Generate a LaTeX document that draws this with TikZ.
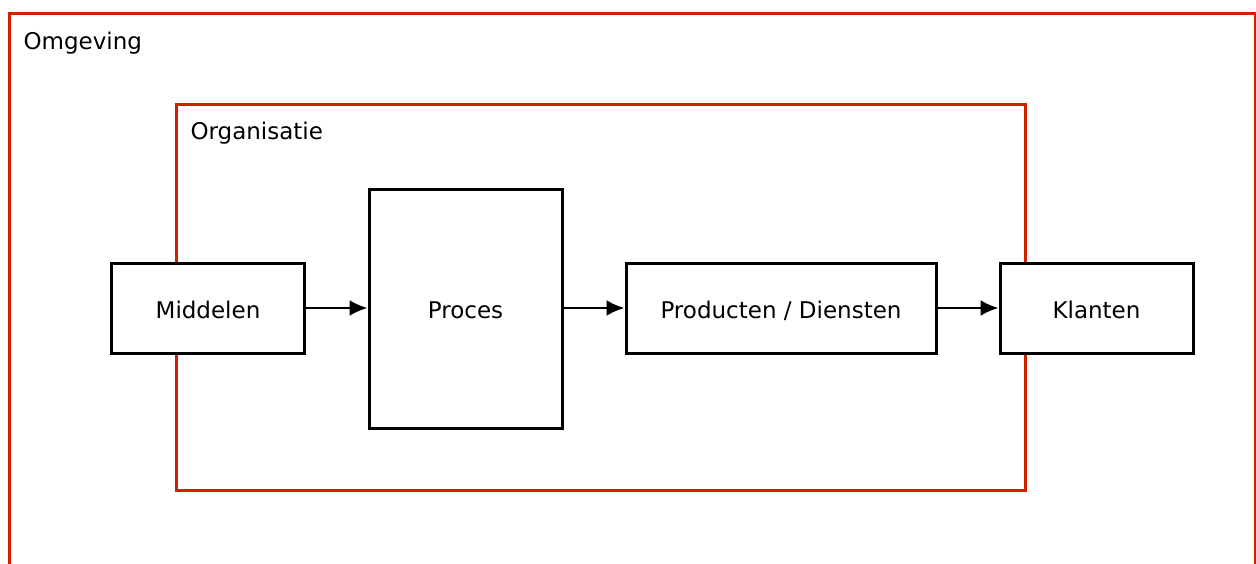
\documentclass[tikz,border=0pt]{standalone}
\usepackage{fontspec}
\setmainfont{DejaVu Sans}
\usetikzlibrary{arrows.meta,positioning}
\definecolor{orgred}{RGB}{208,32,0}
\tikzstyle{arrow} = [line width=2.5pt,-{Latex[length=18pt,width=16pt]}]
\tikzstyle{stage} = [rectangle, draw=black, fill=white, line width=3pt, text centered, minimum height=90pt, text height=22pt, text depth=2pt, font=\fontsize{23}{27}\selectfont]
\tikzstyle{frame} = [draw=orgred, line width=3pt]

\begin{document}
\begin{tikzpicture}[x=1pt, y=-1pt]
\useasboundingbox (0,0) rectangle (1256,563);
% Omgeving en organisatie
\begin{scope}
\clip (0,0) rectangle (1256,563);
\draw[frame] (9,13) rectangle (1255,620);
\end{scope}
\draw[frame] (176,104) rectangle (1025,490);
\node (omg) [anchor=west, font=\fontsize{23}{27}\selectfont] at (20,43) {Omgeving};
\node (org) [anchor=west, font=\fontsize{23}{27}\selectfont] at (187,133) {Organisatie};

% Stappen
\node (mid) [stage, minimum width=193pt] at (208,308) {Middelen};
\node (proc) [stage, minimum width=193pt, minimum height=239pt] at (465.5,308.5) {Proces};
\node (prod) [stage, minimum width=310pt] at (781,308) {Producten / Diensten};
\node (kla) [stage, minimum width=193pt] at (1096.5,308) {Klanten};

% Pijlen
\draw[arrow] (mid) -- (proc.west |- mid);
\draw[arrow] (proc.east |- prod) -- (prod);
\draw[arrow] (prod) -- (kla);
\end{tikzpicture}
\end{document}
